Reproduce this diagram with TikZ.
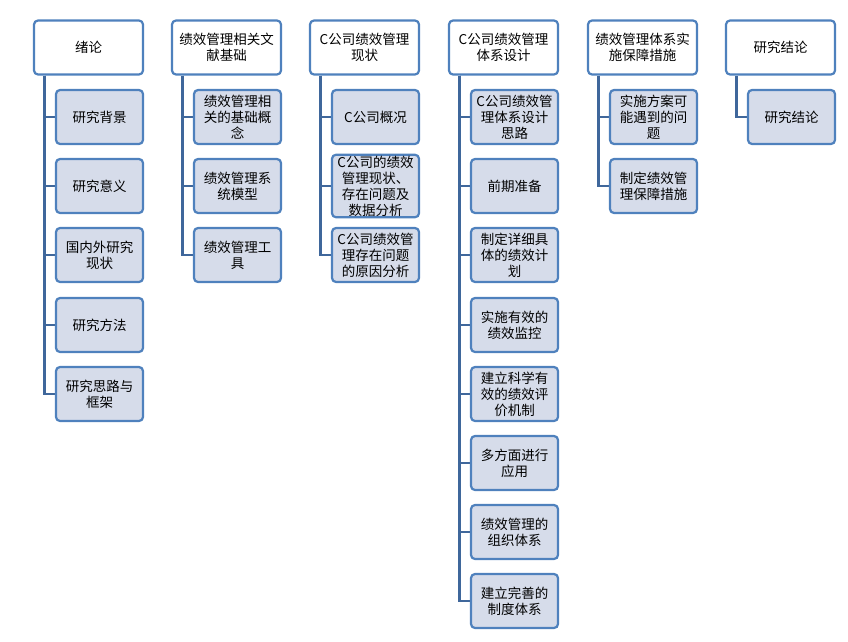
\documentclass[tikz,border=0pt]{standalone}
\usepackage{fontspec}
\setmainfont{Noto Sans CJK SC}
\usepackage{tikz}
\usetikzlibrary{backgrounds}
\definecolor{boxline}{HTML}{4F81BD}
\definecolor{boxfill}{HTML}{D6DCEA}
\definecolor{linkc}{HTML}{3F679B}

\begin{document}
\begin{tikzpicture}[x=1pt,y=-1pt]
    \tikzstyle{headbox} = [rectangle, rounded corners=4pt, draw=boxline, line width=2.2pt, fill=white, minimum width=109pt, minimum height=54pt, text width=104pt, align=center, inner sep=1pt, font=\fontsize{13.5}{16}\selectfont]
    \tikzstyle{subbox} = [rectangle, rounded corners=4pt, draw=boxline, line width=2.2pt, fill=boxfill, minimum width=87pt, minimum height=54pt, text width=84pt, align=center, inner sep=1pt, font=\fontsize{13.5}{16}\selectfont]
    \tikzstyle{link} = [draw=linkc, line width=2.5pt]
    \useasboundingbox (0,0) rectangle (848,642);

    % Heads
    \node[headbox] (h1) at (88.5,47.5) {绪论};
    \node[headbox] (h2) at (226.5,47.5) {绩效管理相关文\\献基础};
    \node[headbox] (h3) at (364.5,47.5) {C公司绩效管理\\现状};
    \node[headbox] (h4) at (503.5,47.5) {C公司绩效管理\\体系设计};
    \node[headbox] (h5) at (642.5,47.5) {绩效管理体系实\\施保障措施};
    \node[headbox] (h6) at (780.5,47.5) {研究结论};

    % Column 1
    \node[subbox] (a1) at (99.5,117) {研究背景};
    \node[subbox] (a2) at (99.5,186) {研究意义};
    \node[subbox] (a3) at (99.5,255) {国内外研究\\现状};
    \node[subbox] (a4) at (99.5,325) {研究方法};
    \node[subbox] (a5) at (99.5,394) {研究思路与\\框架};
    % Column 2
    \node[subbox] (b1) at (237.5,117) {绩效管理相\\关的基础概\\念};
    \node[subbox] (b2) at (237.5,186) {绩效管理系\\统模型};
    \node[subbox] (b3) at (237.5,255) {绩效管理工\\具};
    % Column 3
    \node[subbox] (c1) at (375.5,117) {C公司概况};
    \node[subbox] (c2) at (375.5,186) {C公司的绩效\\管理现状、\\存在问题及\\数据分析};
    \node[subbox] (c3) at (375.5,255) {C公司绩效管\\理存在问题\\的原因分析};
    % Column 4
    \node[subbox] (d1) at (514.5,117) {C公司绩效管\\理体系设计\\思路};
    \node[subbox] (d2) at (514.5,186) {前期准备};
    \node[subbox] (d3) at (514.5,255) {制定详细具\\体的绩效计\\划};
    \node[subbox] (d4) at (514.5,325) {实施有效的\\绩效监控};
    \node[subbox] (d5) at (514.5,394) {建立科学有\\效的绩效评\\价机制};
    \node[subbox] (d6) at (514.5,463) {多方面进行\\应用};
    \node[subbox] (d7) at (514.5,532) {绩效管理的\\组织体系};
    \node[subbox] (d8) at (514.5,601) {建立完善的\\制度体系};
    % Column 5
    \node[subbox] (e1) at (653.5,117) {实施方案可\\能遇到的问\\题};
    \node[subbox] (e2) at (653.5,186) {制定绩效管\\理保障措施};
    % Column 6
    \node[subbox] (f1) at (791.5,117) {研究结论};

    % Links
    \begin{scope}[on background layer]
    \foreach \h/\s/\n in {h1/a/5, h2/b/3, h3/c/3, h4/d/8, h5/e/2, h6/f/1}
        \foreach \i in {1,...,\n}
            \draw[link] ([xshift=-44pt]\h.south) |- (\s\i.west);
    \end{scope}
\end{tikzpicture}
\end{document}
